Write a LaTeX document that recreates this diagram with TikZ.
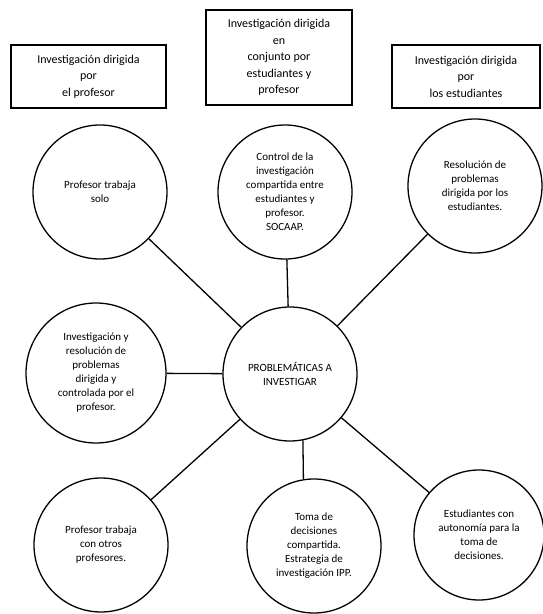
\documentclass[tikz,border=0pt]{standalone}
\usepackage{fontspec}
\setmainfont{Carlito}

\begin{document}
\begin{tikzpicture}[x=1pt,y=-1pt,
		tema/.style={draw,circle,line width=1.3pt,align=center,minimum size=134pt,inner sep=1pt,font=\fontsize{11}{14}\selectfont},
		rotulo/.style={draw,rectangle,line width=1.2pt,align=center,inner sep=2pt,font=\fontsize{12}{16.5}\selectfont},
		enlace/.style={line width=1.3pt}]
		\useasboundingbox (0,0) rectangle (543,614);
		
		% Top boxes
		\node[rotulo,minimum width=155pt,minimum height=63pt] (porprof) at (88.5,76.5) {Investigación dirigida\\por\\el profesor};
		\node[rotulo,minimum width=146pt,minimum height=95pt] (conjunto) at (279,57.5) {Investigación dirigida\\en\\conjunto por\\estudiantes y\\profesor};
		\node[rotulo,minimum width=148pt,minimum height=63pt] (porest) at (466,76.5) {Investigación dirigida\\por\\los estudiantes};
		
		% Central circle
		\node[tema] (centro) at (290,374) {PROBLEMÁTICAS A\\INVESTIGAR};
		
		% Upper circles
		\node[tema] (solo) at (100,192) {Profesor trabaja\\solo};
		\node[tema] (control) at (285,192) {Control de la\\investigación\\compartida entre\\estudiantes y\\profesor.\\SOCAAP.};
		\node[tema] (resol) at (475,186) {Resolución de\\problemas\\dirigida por los\\estudiantes.};
		
		% Middle left circle
		\node[tema,minimum size=140pt] (invres) at (96,373) {Investigación y\\resolución de\\problemas\\dirigida y\\controlada por el\\profesor.};
		
		% Lower circles
		\node[tema] (otros) at (101,545) {Profesor trabaja\\con otros\\profesores.};
		\node[tema] (toma) at (314,546) {Toma de\\decisiones\\compartida.\\Estrategia de\\investigación IPP.};
		\node[tema,minimum size=130pt] (autonom) at (479,535) {Estudiantes con\\autonomía para la\\toma de\\decisiones.};
		
		% Lines to the centre
		\draw[enlace] (centro) -- (solo);
		\draw[enlace] (centro) -- (control);
		\draw[enlace] (centro) -- (resol);
		\draw[enlace] (centro) -- (invres);
		\draw[enlace] (centro) -- (otros);
		\draw[enlace] (centro.-79) -- (toma.99);
		\draw[enlace] (centro) -- (autonom);
	\end{tikzpicture}
\end{document}
